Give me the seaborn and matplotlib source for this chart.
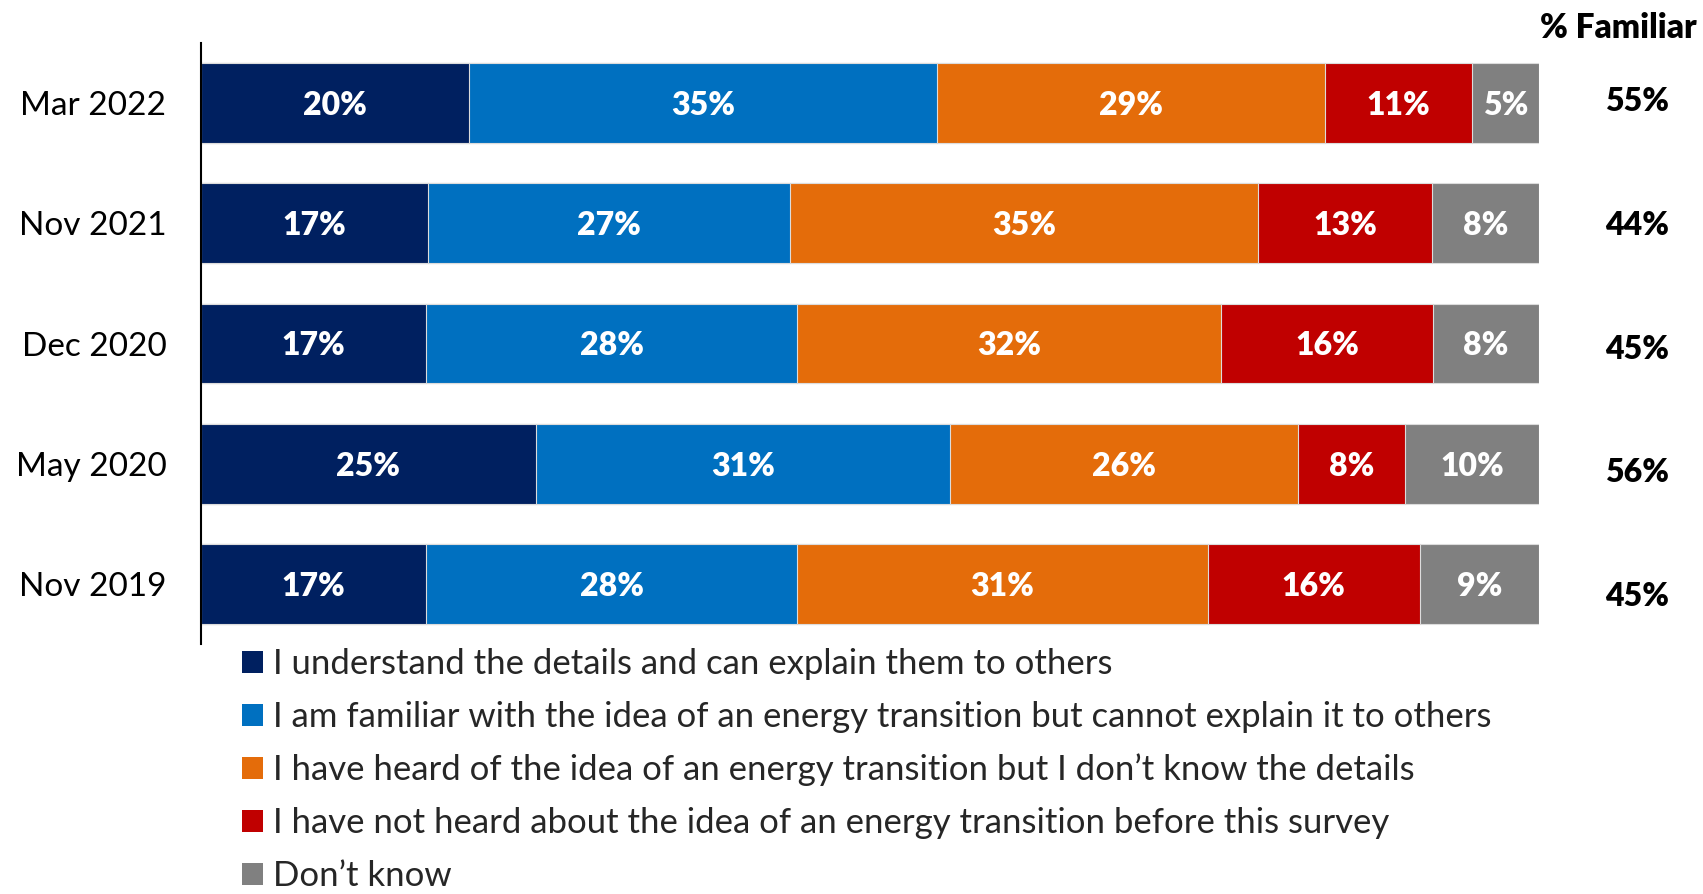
import pandas as pd
import seaborn as sns
import matplotlib.pyplot as plt
from matplotlib.patches import Patch

# survey waves, top to bottom
periods = ['Mar 2022', 'Nov 2021', 'Dec 2020', 'May 2020', 'Nov 2019']

understand = [20, 17, 17, 25, 17]
familiar = [35, 27, 28, 31, 28]
heard = [29, 35, 32, 26, 31]
not_heard = [11, 13, 16, 8, 16]
dont_know = [5, 8, 8, 10, 9]

pct_familiar = [55, 44, 45, 56, 45]

legend_labels = ['I understand the details and can explain them to others',
                 'I am familiar with the idea of an energy transition but cannot explain it to others',
                 'I have heard of the idea of an energy transition but I don\u2019t know the details',
                 'I have not heard about the idea of an energy transition before this survey',
                 'Don\u2019t know']
colors = ['#002060', '#0070C0', '#E46C0A', '#C00000', '#808080']

sns.set_theme(style='white')
plt.rcParams['font.family'] = ['Lato', 'DejaVu Sans']

df = pd.DataFrame({'understand': understand, 'familiar': familiar, 'heard': heard,
                   'not_heard': not_heard, 'dont_know': dont_know}, index=periods)
# rounded values don't always add to 100, bars are drawn as full width
shares = df.div(df.sum(axis=1), axis=0) * 100
cum = shares.cumsum(axis=1)

fig = plt.figure(figsize=(17.03, 8.94), dpi=100)
ax = fig.add_axes([201 / 1703, 1 - 644 / 894, 1338 / 1703, 601 / 894])

# draw longest (cumulative) bars first so the shorter ones sit on top
cols = list(df.columns)
for i in reversed(range(len(cols))):
    sns.barplot(x=cum[cols[i]].values, y=periods, order=periods, orient='h',
                color=colors[i], saturation=1, width=0.665, errorbar=None,
                edgecolor='#dcdcdc', linewidth=0.8, ax=ax)

for i, col in enumerate(cols):
    for j, p in enumerate(periods):
        xc = cum.loc[p, col] - shares.loc[p, col] / 2
        ax.text(xc, j + 0.02, f'{df.loc[p, col]}%', ha='center', va='center',
                color='white', fontsize=23, fontweight='heavy')

# % familiar column on the right
tr = ax.get_yaxis_transform()
for j, v in enumerate(pct_familiar):
    ax.text(1.0732, j + j * 0.028 - 0.01, f'{v}%', transform=tr, ha='center', va='center',
            fontsize=23, fontweight='heavy', color='black')
fig.text(1697 / 1703, 1 - 28 / 894, '% Familiar', ha='right', va='center',
         fontsize=24, fontweight='heavy', color='black')

ax.set_xlim(0, 100)
ax.set_ylim(4.5, -0.5)
ax.set_xlabel('')
ax.set_ylabel('')
ax.set_xticks([])
for s in ['top', 'right', 'bottom']:
    ax.spines[s].set_visible(False)
ax.spines['left'].set_color('black')
ax.spines['left'].set_linewidth(1.5)
ax.tick_params(axis='y', length=0, pad=25, labelsize=24, colors='black')

handles = [Patch(facecolor=c, edgecolor='none') for c in colors]
fig.legend(handles, legend_labels, loc='upper left', bbox_to_anchor=(242 / 1703, 1 - 648 / 894),
           frameon=False, fontsize=25, handlelength=0.6, handleheight=0.6,
           handletextpad=0.3, labelspacing=0.6, borderpad=0, borderaxespad=0)

fig.savefig('out.png', dpi=100)
